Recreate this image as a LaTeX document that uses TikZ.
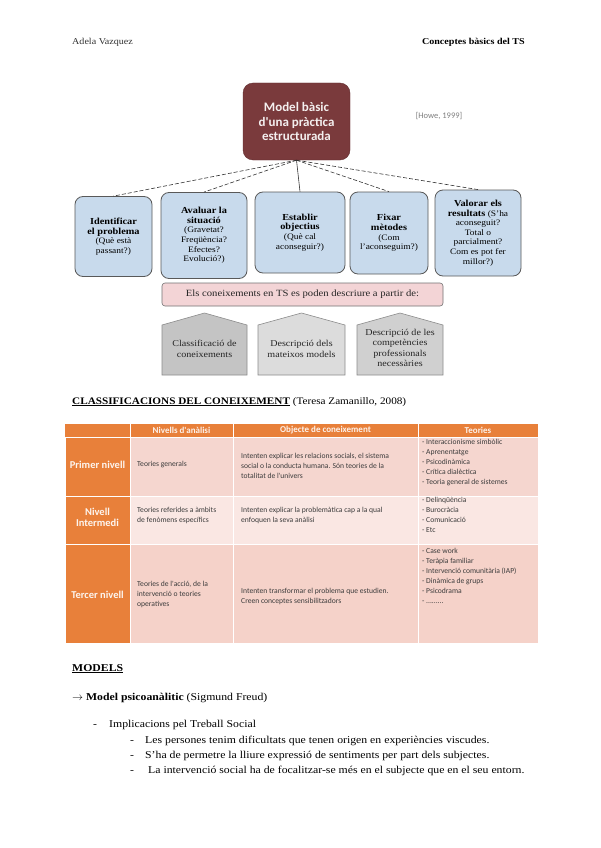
\documentclass[tikz,border=0pt]{standalone}
\usepackage{fontspec}
\setmainfont[FakeStretch=1.12]{Liberation Serif}
\newfontfamily\carl{Carlito}
\definecolor{maroon}{HTML}{7A3A3C}
\definecolor{bluefill}{HTML}{C8DAEC}
\definecolor{pinkbar}{HTML}{F3D4D6}
\definecolor{houseA}{HTML}{C4C4C4}
\definecolor{houseB}{HTML}{DCDCDC}
\definecolor{houseC}{HTML}{D0D0D0}
\definecolor{orng}{HTML}{E8803A}
\definecolor{rowA}{HTML}{F5D6CF}
\definecolor{rowB}{HTML}{FAE7E3}
\definecolor{rowC}{HTML}{F5D2C9}
\definecolor{tabtext}{HTML}{3C3C3C}
\newcommand{\bt}[1]{{\fontsize{9.2}{10}\selectfont\bfseries #1}}
\begin{document}
\begin{tikzpicture}[x=1pt,y=-1pt,
  bluebox/.style={draw=black!65, fill=bluefill, rounded corners=8pt, line width=0.8pt, align=center,
     font=\fontsize{8.4}{9.6}\selectfont, inner sep=1pt},
  conn/.style={draw=black!80, line width=0.6pt, dash pattern=on 4pt off 2pt},
  house/.style={draw=black!45, line width=0.6pt},
  housetext/.style={align=center, font=\fontsize{9}{10.5}\selectfont, text=black!85},
  cell/.style={draw=white, line width=1pt},
  ttext/.style={anchor=west, align=left, font=\carl\fontsize{7.6}{10}\selectfont, text=tabtext, inner sep=0pt},
  lvl/.style={align=center, font=\carl\bfseries\fontsize{10.5}{11}\selectfont, text=white!92!orng},
  hdr/.style={font=\carl\bfseries\fontsize{9}{10}\selectfont, text=white!90!orng},
  body/.style={anchor=base west, inner sep=0pt, font=\fontsize{10.5}{12}\selectfont}
]
\useasboundingbox[fill=white] (0,0) rectangle (600,848);

% header
\node[anchor=base west, inner sep=0pt, font=\fontsize{9}{10}\selectfont, text=black!80] (hl) at (72,45) {Adela Vazquez};
\node[anchor=base east, inner sep=0pt, font=\bfseries\fontsize{9}{10}\selectfont] (hr) at (525,45) {Conceptes bàsics del TS};

% top box
\node[fill=maroon, draw=maroon!80!black, rounded corners=10pt, minimum width=107pt, minimum height=77pt,
      align=center, text=white!92!maroon, font=\carl\bfseries\fontsize{13}{14.5}\selectfont] (top) at (296.5,121.5)
      {Model bàsic\\d'una pràctica\\estructurada};
\node[font=\carl\fontsize{8.5}{10}\selectfont, text=black!50] (howe) at (439,116) {[Howe, 1999]};

% blue boxes
\node[bluebox, minimum width=77pt, minimum height=80pt] (b1) at (113.5,236.5)
  {\bt{Identificar}\\\bt{el problema}\\(Què està\\passant?)};
\node[bluebox, minimum width=86pt, minimum height=86pt] (b2) at (204,235.5)
  {\bt{Avaluar la}\\\bt{situació}\\(Gravetat?\\Freqüència?\\Efectes?\\Evolució?)};
\node[bluebox, minimum width=90pt, minimum height=81pt] (b3) at (300,232.5)
  {\bt{Establir}\\\bt{objectius}\\(Què cal\\aconseguir?)};
\node[bluebox, minimum width=78pt, minimum height=82pt] (b4) at (389,233)
  {\bt{Fixar}\\\bt{mètodes}\\(Com\\l'aconseguim?)};
\node[bluebox, minimum width=86pt, minimum height=86pt] (b5) at (478,233)
  {\bt{Valorar els}\\\bt{resultats} (S'ha\\aconseguit?\\Total o\\parcialment?\\Com es pot fer\\millor?)};

\draw[conn] (top.south) -- (b1.north);
\draw[conn] (top.south) -- (b2.north);
\draw[draw=black!80, line width=0.6pt] (top.south) -- (b3.north);
\draw[conn] (top.south) -- (b4.north);
\draw[conn] (top.south) -- (b5.north);

% pink bar
\node[fill=pinkbar, draw=black!55, line width=0.6pt, rounded corners=3pt, minimum width=281pt, minimum height=23pt,
      font=\fontsize{9.5}{11}\selectfont, text=black!85] (bar) at (302.5,294.5)
      {Els coneixements en TS es poden descriure a partir de:};

% houses
\draw[house, fill=houseA] (162,375) -- (162,325) -- (204.5,313) -- (247,325) -- (247,375) -- cycle;
\draw[house, fill=houseB] (258,375) -- (258,325) -- (301.5,313) -- (345,325) -- (345,375) -- cycle;
\draw[house, fill=houseC] (357,375) -- (357,325) -- (400,313) -- (443,325) -- (443,375) -- cycle;
\node[housetext] (h1) at (204.5,349) {Classificació de\\coneixements};
\node[housetext] (h2) at (301.5,349) {Descripció dels\\mateixos models};
\node[housetext] (h3) at (400,348) {Descripció de les\\competències\\professionals\\necessàries};

% classificacions title
\node[body, font=\fontsize{10}{12}\selectfont] (ct) at (72,404) {\textbf{\underline{CLASSIFICACIONS DEL CONEIXEMENT}} (Teresa Zamanillo, 2008)};

% table
\fill[orng] (65,424) rectangle (538,437);
\draw[white, line width=1pt] (130,424) -- (130,437) (233,424) -- (233,437) (418,424) -- (418,437);
\node[hdr] (th2) at (181.5,430.5) {Nivells d'anàlisi};
\node[hdr] (th3) at (325.5,430.5) {Objecte de coneixement};
\node[hdr] (th4) at (478,430.5) {Teories};

\draw[cell, fill=orng] (65,437) rectangle (130,496);
\draw[cell, fill=rowA] (130,437) rectangle (233,496);
\draw[cell, fill=rowA] (233,437) rectangle (418,496);
\draw[cell, fill=rowA] (418,437) rectangle (538,496);
\draw[cell, fill=orng] (65,496) rectangle (130,544);
\draw[cell, fill=rowB] (130,496) rectangle (233,544);
\draw[cell, fill=rowB] (233,496) rectangle (418,544);
\draw[cell, fill=rowB] (418,496) rectangle (538,544);
\draw[cell, fill=orng] (65,544) rectangle (130,643);
\draw[cell, fill=rowC] (130,544) rectangle (233,643);
\draw[cell, fill=rowC] (233,544) rectangle (418,643);
\draw[cell, fill=rowC] (418,544) rectangle (538,643);

\node[lvl] (l1) at (97.5,465) {Primer nivell};
\node[lvl] (l2) at (97.5,517) {Nivell\\Intermedi};
\node[lvl] (l3) at (97.5,595) {Tercer nivell};

\node[ttext] (c12) at (137,465) {Teories generals};
\node[ttext] (c13) at (241,466) {Intenten explicar les relacions socials, el sistema\\social o la conducta humana. Són teories de la\\totalitat de l'univers};
\node[ttext] (c14) at (422,463) {- Interaccionisme simbòlic\\- Aprenentatge\\- Psicodinàmica\\- Crítica dialèctica\\- Teoria general de sistemes};

\node[ttext] (c22) at (137,515) {Teories referides a àmbits\\de fenòmens específics};
\node[ttext] (c23) at (241,515) {Intenten explicar la problemàtica cap a la qual\\enfoquen la seva anàlisi};
\node[ttext] (c24) at (422,515) {- Delinqüència\\- Burocràcia\\- Comunicació\\- Etc};

\node[ttext] (c32) at (137,594) {Teories de l'acció, de la\\intervenció o teories\\operatives};
\node[ttext] (c33) at (241,596) {Intenten transformar el problema que estudien.\\Creen conceptes sensibilitzadors};
\node[ttext] (c34) at (422,576) {- Case work\\- Teràpia familiar\\- Intervenció comunitària (IAP)\\- Dinàmica de grups\\- Psicodrama\\- .........};

% models
\node[body] (mt) at (72,671) {\textbf{\underline{MODELS}}};
\node[body] (mp) at (72,700) {$\rightarrow$ \textbf{Model psicoanàlitic} (Sigmund Freud)};
\node[body] (d1) at (93,727) {-};
\node[body] (i1) at (109,727) {Implicacions pel Treball Social};
\node[body] (d2) at (130,743) {-};
\node[body] (i2) at (145,743) {Les persones tenim dificultats que tenen origen en experiències viscudes.};
\node[body] (d3) at (130,758) {-};
\node[body] (i3) at (145,758) {S'ha de permetre la lliure expressió de sentiments per part dels subjectes.};
\node[body] (d4) at (130,773) {-};
\node[body] (i4) at (148,773) {La intervenció social ha de focalitzar-se més en el subjecte que en el seu entorn.};
\end{tikzpicture}
\end{document}
